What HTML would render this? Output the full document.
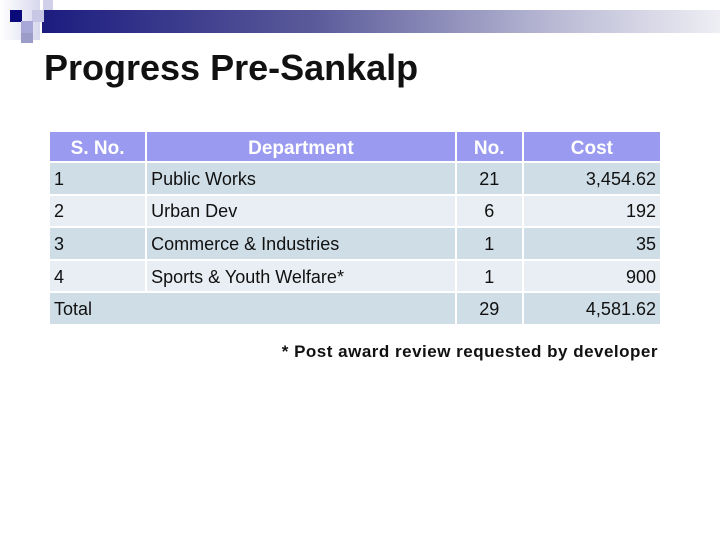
<!DOCTYPE html>
<html><head><meta charset="utf-8"><style>
body{margin:0;width:720px;height:540px;background:#fff;position:relative;overflow:hidden;font-family:"Liberation Sans",Arial,sans-serif;}
.sq{position:absolute}
table{position:absolute;left:48px;top:130px;border-collapse:collapse;table-layout:fixed;width:614px;font-size:18px;color:#111}
td,th{border:2px solid #fff;padding:0 4px;box-sizing:border-box;}
th{background:#9a9af0;color:#fff;font-weight:bold;font-size:19px;height:31px;padding-top:4px}
td{height:32.6px;padding-top:2px}
tr.o td{background:#cfdde6}
tr.e td{background:#e8eef3}
</style></head><body>
<div style="position:absolute;left:42px;top:10px;width:678px;height:23px;background:linear-gradient(90deg,#1c1c80,#5a5a9a 40%,#b8b8d4 75%,#eeeef4)"></div>
<div class="sq" style="left:0;top:0;width:40px;height:40px;background:linear-gradient(90deg,#fff,#d8d8ee)"></div>
<div class="sq" style="left:10px;top:10px;width:12px;height:12px;background:#0a0a7a"></div>
<div class="sq" style="left:32px;top:10px;width:12px;height:12px;background:#c8c8e4"></div>
<div class="sq" style="left:43px;top:0;width:10px;height:10px;background:#d0d0e8"></div>
<div class="sq" style="left:21px;top:21px;width:12px;height:12px;background:#a8a8d8"></div>
<div class="sq" style="left:21px;top:33px;width:12px;height:10px;background:#9c9cc8"></div>
<div style="position:absolute;left:44px;top:47px;font-size:36px;font-weight:bold;color:#111">Progress Pre-Sankalp</div>
<table>
<colgroup><col style="width:97px"><col style="width:309px"><col style="width:67px"><col style="width:138px"></colgroup>
<tr><th>S. No.</th><th>Department</th><th>No.</th><th>Cost</th></tr>
<tr class="o"><td>1</td><td>Public Works</td><td align="center">21</td><td align="right">3,454.62</td></tr>
<tr class="e"><td>2</td><td>Urban Dev</td><td align="center">6</td><td align="right">192</td></tr>
<tr class="o"><td>3</td><td>Commerce &amp; Industries</td><td align="center">1</td><td align="right">35</td></tr>
<tr class="e"><td>4</td><td>Sports &amp; Youth Welfare*</td><td align="center">1</td><td align="right">900</td></tr>
<tr class="o"><td colspan="2">Total</td><td align="center">29</td><td align="right">4,581.62</td></tr>
</table>
<div style="position:absolute;right:62px;top:342px;font-size:17px;letter-spacing:0.5px;font-weight:bold;color:#111">* Post award review requested by developer</div>
</body></html>
